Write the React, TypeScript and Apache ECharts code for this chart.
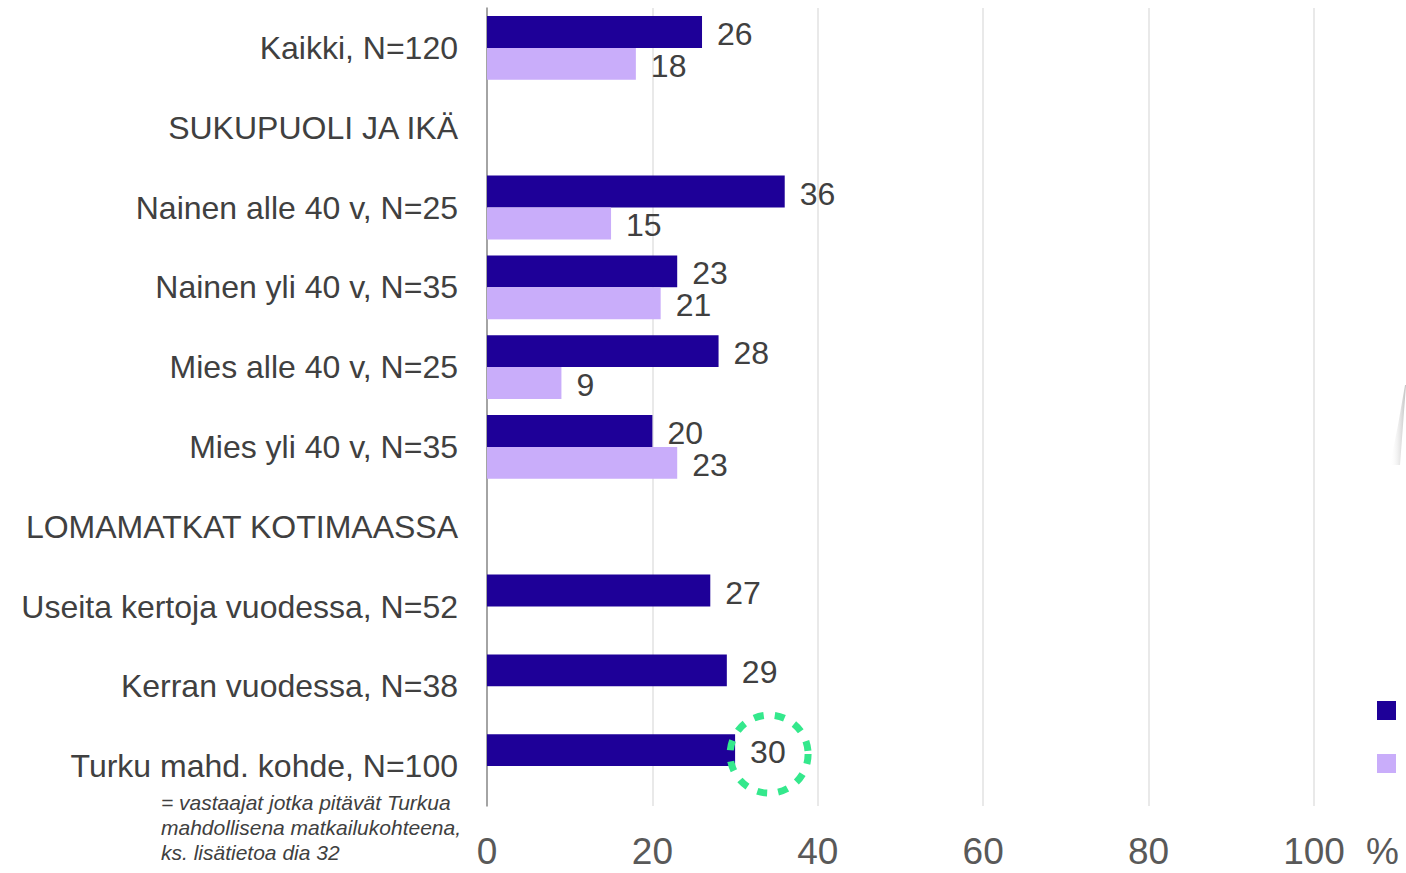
import React, { useEffect, useRef } from "react";
import * as echarts from "echarts";

const categories = [
  "Kaikki, N=120",
  "SUKUPUOLI JA IKÄ",
  "Nainen alle 40 v, N=25",
  "Nainen yli 40 v, N=35",
  "Mies alle 40 v, N=25",
  "Mies yli 40 v, N=35",
  "LOMAMATKAT KOTIMAASSA",
  "Useita kertoja vuodessa, N=52",
  "Kerran vuodessa, N=38",
  "Turku mahd. kohde, N=100",
];
const seriesA = [26, null, 36, 23, 28, 20, null, 27, 29, 30];
const seriesB = [18, null, 15, 21, 9, 23, null, null, null, null];
const seriesNames = ["A", "B"];
const xTicks = [0, 20, 40, 60, 80, 100];
const footnote = [
  "= vastaajat jotka pitävät Turkua",
  "mahdollisena matkailukohteena,",
  "ks. lisätietoa dia 32",
];
const highlightIndex = 9;

const FONT = "'Liberation Sans', Arial, sans-serif";

export default function App() {
  const ref = useRef<HTMLDivElement>(null);
  useEffect(() => {
    const chart = echarts.init(ref.current!, null, { renderer: "svg" });
    const labelCfg = {
      show: true,
      position: "right",
      distance: 15,
      offset: [0, 2],
      fontSize: 32,
      fontFamily: FONT,
      color: "#404040",
    };
    chart.setOption({
      animation: false,
      grid: { left: 487, right: 92, top: 8, bottom: 67, containLabel: false },
      legend: {
        orient: "vertical",
        left: 1377,
        top: 701,
        padding: 0,
        itemWidth: 19,
        itemHeight: 19,
        itemGap: 34,
        icon: "rect",
        formatter: () => "",
        data: seriesNames,
        selectedMode: false,
      },
      xAxis: {
        type: "value",
        min: 0,
        max: 100,
        interval: 20,
        axisLine: { show: false },
        axisTick: { show: false },
        splitLine: { lineStyle: { color: "#e2e2e2", width: 1.5 } },
        axisLabel: {
          fontSize: 37,
          fontFamily: FONT,
          color: "#595959",
          margin: 27,
          formatter: (v: number) => (xTicks.includes(v) ? String(v) : ""),
        },
      },
      yAxis: {
        type: "category",
        inverse: true,
        data: categories,
        axisLine: { show: true, lineStyle: { color: "#8c8c8c", width: 1.5 } },
        axisTick: { show: false },
        axisLabel: {
          fontSize: 32,
          fontFamily: FONT,
          color: "#404040",
          margin: 29,
        },
      },
      series: [
        {
          name: seriesNames[0],
          type: "bar",
          data: seriesA,
          barGap: "0%",
          barCategoryGap: "20%",
          itemStyle: { color: "#1e0098" },
          label: labelCfg,
        },
        {
          name: seriesNames[1],
          type: "bar",
          data: seriesB,
          barGap: "0%",
          barCategoryGap: "20%",
          itemStyle: { color: "#c9adfa" },
          label: labelCfg,
        },
      ],
    });

    const p = chart.convertToPixel({ gridIndex: 0 }, [
      seriesA[highlightIndex] as number,
      categories[highlightIndex],
    ]) as number[];
    const p100 = chart.convertToPixel({ gridIndex: 0 }, [100, categories[highlightIndex]]) as number[];
    chart.setOption({
      graphic: [
        {
          type: "circle",
          shape: { cx: p[0] + 34, cy: p[1] - 12, r: 39 },
          style: {
            fill: "none",
            stroke: "#34e88c",
            lineWidth: 7,
            lineDash: [10, 11],
          },
          z: 10,
        },
        {
          type: "text",
          x: p100[0] + 52,
          y: 851,
          style: {
            text: "%",
            fontSize: 37,
            fontFamily: FONT,
            fill: "#595959",
            align: "left",
            verticalAlign: "middle",
          },
        },
        ...footnote.map((t, i) => ({
          type: "text",
          x: 161,
          y: 802 + i * 25,
          style: {
            text: t,
            fontSize: 21,
            fontStyle: "italic",
            fontFamily: FONT,
            fill: "#404040",
            align: "left",
            verticalAlign: "middle",
          },
        })),
        {
          type: "polygon",
          shape: {
            points: [
              [1406, 385],
              [1403, 425],
              [1400, 465],
              [1390, 465],
              [1398, 425],
              [1405, 385],
            ],
          },
          style: {
            fill: new echarts.graphic.LinearGradient(1, 0, 0, 0, [
              { offset: 0, color: "rgba(150,150,150,0.6)" },
              { offset: 1, color: "rgba(255,255,255,0)" },
            ]),
          },
        },
      ],
    });
    return () => chart.dispose();
  }, []);
  return <div ref={ref} style={{ width: 1406, height: 873, position: "absolute", left: 0, top: 0 }} />;
}
